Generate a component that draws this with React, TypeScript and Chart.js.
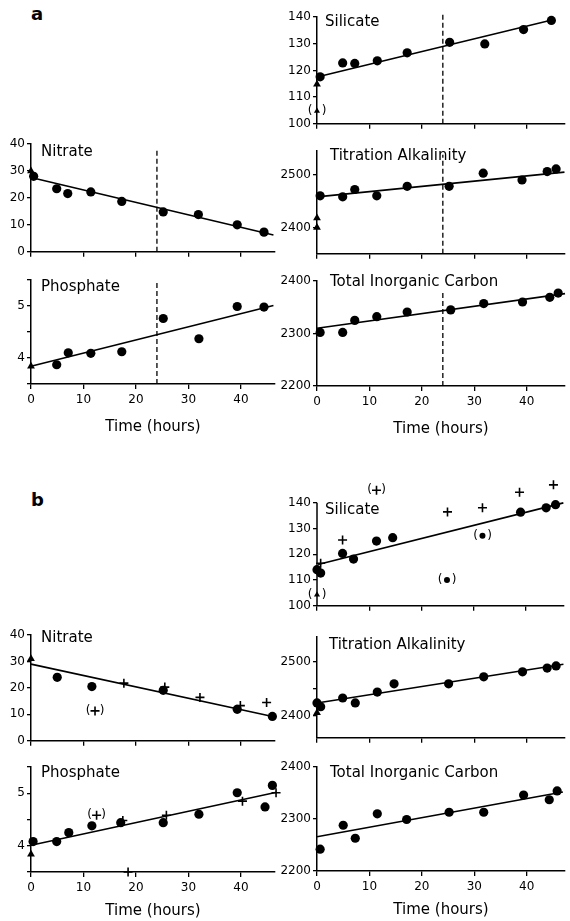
import React, { useEffect, useRef } from 'react';
import { Chart, registerables } from 'chart.js';
Chart.register(...registerables);
Chart.defaults.font.family = '"DejaVu Sans", sans-serif';
Chart.defaults.color = '#000';

type P = [number, number];

const timeTicks = [0, 10, 20, 30, 40];
const sampleHour = 24;

// ---------- panel a ----------
const aSilDots: P[] = [[0.6, 117.6], [4.9, 122.8], [7.2, 122.6], [11.5, 123.6], [17.2, 126.6], [25.3, 130.5], [32, 129.9], [39.4, 135.3], [44.7, 138.7]];
const aSilTri: P[] = [[0, 114.8]];
const aSilTriBr: P[] = [[0, 104.8]];
const aSilFit: P[] = [[0.2, 117.6], [44.8, 138.9]];
const aSilDash: P[] = [[sampleHour, 100], [sampleHour, 141.5]];

const aNitDots: P[] = [[0.5, 28], [4.9, 23.4], [7, 21.6], [11.4, 22.2], [17.3, 18.7], [25.2, 14.8], [31.9, 13.8], [39.3, 10], [44.4, 7.3]];
const aNitTri: P[] = [[0, 30]];
const aNitFit: P[] = [[0, 27.6], [46.2, 6.2]];
const aNitDash: P[] = [[sampleHour, 0], [sampleHour, 38]];

const aTaDots: P[] = [[0.6, 2460], [4.9, 2458], [7.2, 2472], [11.4, 2460], [17.2, 2478], [25.2, 2478], [31.7, 2503], [39.1, 2490], [43.9, 2506], [45.6, 2511]];
const aTaTri: P[] = [[0, 2418], [0, 2400]];
const aTaFit: P[] = [[0, 2458], [47.2, 2505]];
const aTaDash: P[] = [[sampleHour, 2350], [sampleHour, 2538]];

const aPhoDots: P[] = [[4.9, 3.87], [7.1, 4.1], [11.4, 4.09], [17.3, 4.12], [25.2, 4.76], [32, 4.37], [39.3, 4.99], [44.4, 4.98]];
const aPhoTri: P[] = [[0, 3.84]];
const aPhoFit: P[] = [[0, 3.84], [46.2, 5.01]];
const aPhoDash: P[] = [[sampleHour, 3.5], [sampleHour, 5.5]];

const aTicDots: P[] = [[0.6, 2302], [4.9, 2302], [7.2, 2325], [11.4, 2332], [17.2, 2341], [25.5, 2345], [31.8, 2357], [39.2, 2360], [44.4, 2369], [46, 2377]];
const aTicFit: P[] = [[0, 2310], [47.3, 2376]];
const aTicDash: P[] = [[sampleHour, 2200], [sampleHour, 2383]];

// ---------- panel b ----------
const bSilDots: P[] = [[0, 114], [0.7, 112.7], [4.9, 120.3], [7, 118.1], [11.4, 125.1], [14.5, 126.4], [39, 136.3], [43.9, 138], [45.7, 139.2]];
const bSilDotsBr: P[] = [[24.9, 110], [31.7, 127.2]];
const bSilTriBr: P[] = [[0, 104.3]];
const bSilPlus: P[] = [[0.7, 116.5], [4.9, 125.5], [25, 136.4], [31.7, 138], [38.8, 144], [45.3, 146.9]];
const bSilPlusBr: P[] = [[11.4, 144.8]];
const bSilFit: P[] = [[0.2, 116], [47.2, 139.9]];

const bNitDots: P[] = [[5, 24], [11.6, 20.5], [25.2, 19.1], [39.3, 11.9], [46, 9.2]];
const bNitTri: P[] = [[0, 31]];
const bNitPlus: P[] = [[17.7, 21.8], [25.5, 20.3], [32.2, 16.4], [39.9, 13.3], [44.9, 14.5]];
const bNitPlusBr: P[] = [[12.2, 11.3]];
const bNitFit: P[] = [[0, 29], [46.7, 8.9]];

const bTaDots: P[] = [[0, 2424], [0.7, 2417], [4.9, 2433], [7.3, 2424], [11.5, 2444], [14.7, 2459], [25.1, 2459], [31.8, 2472], [39.2, 2481], [43.9, 2488], [45.6, 2492]];
const bTaTri: P[] = [[0, 2406]];
const bTaFit: P[] = [[0, 2424], [47, 2495]];

const bPhoDots: P[] = [[0.4, 4.08], [4.9, 4.08], [7.2, 4.25], [11.6, 4.38], [17.1, 4.44], [25.2, 4.44], [32, 4.6], [39.3, 5.01], [44.6, 4.74], [46, 5.15]];
const bPhoTri: P[] = [[0, 3.84]];
const bPhoPlus: P[] = [[17.5, 4.48], [25.8, 4.58], [40.3, 4.85], [46.7, 5.01], [18.5, 3.5]];
const bPhoPlusBr: P[] = [[12.5, 4.58]];
const bPhoFit: P[] = [[0, 4.01], [46.8, 5.02]];

const bTicDots: P[] = [[0.6, 2242], [5, 2288], [7.3, 2263], [11.5, 2310], [17.1, 2299], [25.2, 2313], [31.8, 2313], [39.4, 2346], [44.3, 2337], [45.8, 2354]];
const bTicFit: P[] = [[0, 2266], [46.9, 2352]];

// ---------- axis ticks ----------
const silTicks = [100, 110, 120, 130, 140];
const nitTicks = [0, 10, 20, 30, 40];
const taTicksA = [2400, 2500];
const taTicksB = [2400, 2450, 2500];
const taLabels = [2400, 2500];
const phoTicks = [3.5, 4, 4.5, 5, 5.5];
const phoLabels = [4, 5];
const ticTicks = [2200, 2300, 2400];

const pts = (a: P[]) => a.map(([x, y]) => ({ x, y }));
const dots = (a: P[], bracket = false) => ({ data: pts(a), pointStyle: 'circle', pointRadius: bracket ? 3 : 4.6, backgroundColor: '#000', borderColor: '#000', borderWidth: 0, showLine: false, clip: false, bracket });
const tris = (a: P[], bracket = false) => ({ data: pts(a), pointStyle: 'triangle', pointRadius: bracket ? 3.5 : 4.5, backgroundColor: '#000', borderColor: '#000', borderWidth: 0, showLine: false, clip: false, bracket });
const plus = (a: P[], bracket = false) => ({ data: pts(a), pointStyle: 'cross', pointRadius: 4.5, backgroundColor: '#000', borderColor: '#000', borderWidth: 1.6, showLine: false, clip: false, bracket });
const fit = (a: P[]) => ({ data: pts(a), showLine: true, pointRadius: 0, borderColor: '#000', borderWidth: 1.6, clip: false });
const dash = (a: P[]) => ({ data: pts(a), showLine: true, pointRadius: 0, borderColor: '#000', borderWidth: 1.3, borderDash: [5, 3], clip: false });

const L = { left: 0, width: 290, yW: 31, padRight: 15, xMax: 46.5 };
const R = { left: 276, width: 294, yW: 41, padRight: 5, xMax: 47.3 };

const panels: any[] = [
  { ...R, top: 4, height: 129, padTop: 13, xH: 8, yMin: 100, yMax: 140, yTicks: silTicks, yLabels: silTicks, title: 'Silicate', tdx: 8, tdy: 5, showX: false,
    datasets: [dash(aSilDash), fit(aSilFit), dots(aSilDots), tris(aSilTri), tris(aSilTriBr, true)] },
  { ...L, top: 132, height: 129, padTop: 12, xH: 8, yMin: 0, yMax: 40, yTicks: nitTicks, yLabels: nitTicks, title: 'Nitrate', tdx: 10, tdy: 8, showX: false,
    datasets: [dash(aNitDash), fit(aNitFit), dots(aNitDots), tris(aNitTri)] },
  { ...R, top: 140, height: 123, padTop: 11, xH: 8, yMin: 2350, yMax: 2545, yTicks: taTicksA, yLabels: taLabels, title: 'Titration Alkalinity', tdx: 13, tdy: 5, showX: false,
    datasets: [dash(aTaDash), fit(aTaFit), dots(aTaDots), tris(aTaTri)] },
  { ...L, top: 268, height: 168, padTop: 12, xH: 52, yMin: 3.5, yMax: 5.5, yTicks: phoTicks, yLabels: phoLabels, title: 'Phosphate', tdx: 10, tdy: 7, showX: true,
    datasets: [dash(aPhoDash), fit(aPhoFit), dots(aPhoDots), tris(aPhoTri)] },
  { ...R, top: 268, height: 170, padTop: 13, xH: 52, yMin: 2200, yMax: 2400, yTicks: ticTicks, yLabels: ticTicks, title: 'Total Inorganic Carbon', tdx: 13, tdy: 1, showX: true,
    datasets: [dash(aTicDash), fit(aTicFit), dots(aTicDots)] },

  { ...R, top: 470, height: 145, padTop: 12, xH: 8, yMin: 100, yMax: 148, axisTop: 140, yTicks: silTicks, yLabels: silTicks, title: 'Silicate', tdx: 8, tdy: 28, showX: false,
    datasets: [fit(bSilFit), dots(bSilDots), dots(bSilDotsBr, true), tris(bSilTriBr, true), plus(bSilPlus), plus(bSilPlusBr, true)] },
  { ...L, top: 622, height: 128, padTop: 13, xH: 8, yMin: 0, yMax: 40, yTicks: nitTicks, yLabels: nitTicks, title: 'Nitrate', tdx: 10, tdy: 3, showX: false,
    datasets: [fit(bNitFit), dots(bNitDots), tris(bNitTri), plus(bNitPlus), plus(bNitPlusBr, true)] },
  { ...R, top: 626, height: 121, padTop: 11, xH: 8, yMin: 2360, yMax: 2545, yTicks: taTicksB, yLabels: taLabels, title: 'Titration Alkalinity', tdx: 12, tdy: 8, showX: false,
    datasets: [fit(bTaFit), dots(bTaDots), tris(bTaTri)] },
  { ...L, top: 755, height: 165, padTop: 12, xH: 48, yMin: 3.5, yMax: 5.5, yTicks: phoTicks, yLabels: phoLabels, title: 'Phosphate', tdx: 10, tdy: 6, showX: true,
    datasets: [fit(bPhoFit), dots(bPhoDots), tris(bPhoTri), plus(bPhoPlus), plus(bPhoPlusBr, true)] },
  { ...R, top: 755, height: 164, padTop: 12, xH: 48, yMin: 2200, yMax: 2400, yTicks: ticTicks, yLabels: ticTicks, title: 'Total Inorganic Carbon', tdx: 13, tdy: 6, showX: true,
    datasets: [fit(bTicFit), dots(bTicDots)] },
];

function Panel({ cfg }: { cfg: any }) {
  const ref = useRef<HTMLCanvasElement>(null);
  useEffect(() => {
    if (!ref.current) return;
    const titlePlugin = {
      id: 'panelTitle',
      afterDatasetsDraw(chart: any) {
        const { ctx, chartArea } = chart;
        ctx.save();
        ctx.font = '15px "DejaVu Sans"';
        ctx.fillStyle = '#000';
        ctx.textAlign = 'left';
        ctx.textBaseline = 'middle';
        ctx.fillText(cfg.title, chartArea.left + cfg.tdx, chartArea.top + cfg.tdy);
        ctx.restore();
      },
    };
    const axisPlugin = {
      id: 'shortAxis',
      afterDraw(chart: any) {
        if (cfg.axisTop === undefined) return;
        const { ctx, scales } = chart;
        const x = scales.x.left;
        ctx.save();
        ctx.strokeStyle = '#000';
        ctx.lineWidth = 1.5;
        ctx.beginPath();
        ctx.moveTo(x, scales.y.getPixelForValue(cfg.yMin));
        ctx.lineTo(x, scales.y.getPixelForValue(cfg.axisTop));
        ctx.stroke();
        ctx.restore();
      },
    };
    const bracketPlugin = {
      id: 'brackets',
      afterDatasetsDraw(chart: any) {
        const { ctx } = chart;
        ctx.save();
        ctx.font = '12px "DejaVu Sans"';
        ctx.fillStyle = '#000';
        ctx.textAlign = 'center';
        ctx.textBaseline = 'middle';
        chart.data.datasets.forEach((ds: any, i: number) => {
          if (!ds.bracket) return;
          chart.getDatasetMeta(i).data.forEach((el: any) => {
            ctx.fillText('(', el.x - 7, el.y);
            ctx.fillText(')', el.x + 7, el.y);
          });
        });
        ctx.restore();
      },
    };
    const chart = new Chart(ref.current, {
      type: 'scatter',
      data: { datasets: cfg.datasets },
      options: {
        animation: false,
        responsive: false,
        devicePixelRatio: 1,
        layout: { padding: { top: cfg.padTop, right: cfg.padRight, left: 0, bottom: 0 } },
        plugins: { legend: { display: false }, tooltip: { enabled: false } },
        scales: {
          x: {
            type: 'linear',
            min: 0,
            max: cfg.xMax,
            afterBuildTicks: (s: any) => { s.ticks = timeTicks.map((v) => ({ value: v })); },
            afterFit: (s: any) => { s.height = cfg.xH; },
            ticks: { callback: (v: any) => (cfg.showX ? String(v) : ''), font: { size: 12 }, color: '#000', padding: 4, maxRotation: 0, autoSkip: false },
            grid: { drawOnChartArea: false, drawTicks: true, tickLength: 5, color: '#000', lineWidth: 1.3 },
            border: { color: '#000', width: 1.5 },
            title: { display: cfg.showX, text: 'Time (hours)', font: { size: 15 }, color: '#000', padding: { top: 0, bottom: 0 } },
          },
          y: {
            type: 'linear',
            min: cfg.yMin,
            max: cfg.yMax,
            afterBuildTicks: (s: any) => { s.ticks = cfg.yTicks.map((v: number) => ({ value: v })); },
            afterFit: (s: any) => { s.width = cfg.yW; },
            ticks: { callback: (v: any) => (cfg.yLabels.includes(v) ? String(v) : ''), font: { size: 12 }, color: '#000', padding: 2, autoSkip: false },
            grid: { drawOnChartArea: false, drawTicks: true, tickLength: 4, color: '#000', lineWidth: 1.3 },
            border: { display: cfg.axisTop === undefined, color: '#000', width: 1.5 },
          },
        },
      } as any,
      plugins: [titlePlugin, axisPlugin, bracketPlugin],
    });
    return () => chart.destroy();
  }, [cfg]);
  return (
    <canvas
      ref={ref}
      width={cfg.width}
      height={cfg.height}
      style={{ position: 'absolute', left: cfg.left, top: cfg.top, width: cfg.width, height: cfg.height }}
    />
  );
}

export default function App() {
  const letter: React.CSSProperties = { position: 'absolute', fontFamily: '"DejaVu Sans", sans-serif', fontSize: 18, lineHeight: '18px', fontWeight: 'bold', color: '#000' };
  return (
    <div>
      <div style={{ ...letter, left: 31, top: 5 }}>a</div>
      <div style={{ ...letter, left: 31, top: 491 }}>b</div>
      {panels.map((p, i) => (
        <Panel key={i} cfg={p} />
      ))}
    </div>
  );
}
